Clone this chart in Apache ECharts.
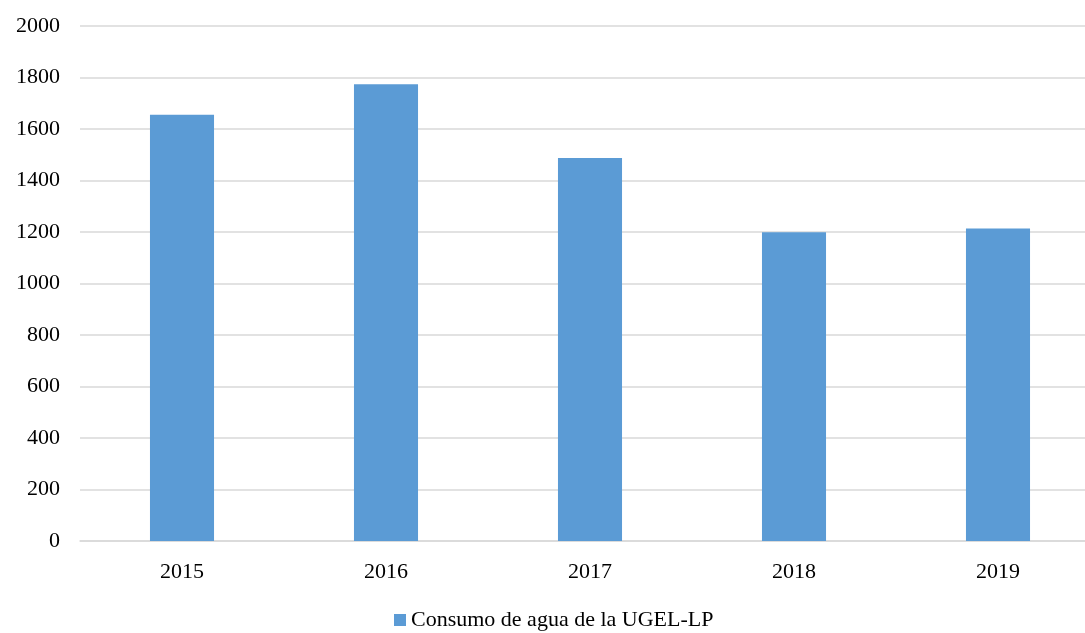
<!DOCTYPE html>
<html>
<head>
<meta charset="utf-8">
<script src="https://cdn.jsdelivr.net/npm/echarts@6/dist/echarts.min.js"></script>
<style>html,body{margin:0;padding:0;background:#fff}#c{width:1085px;height:633px}</style>
</head>
<body>
<div id="c"></div>
<script>
var categories = ['2015', '2016', '2017', '2018', '2019'];
var values = [1655, 1774, 1487, 1199, 1214];
var seriesName = 'Consumo de agua de la UGEL-LP';
var chart = echarts.init(document.getElementById('c'));
var font = '"Liberation Serif", "Times New Roman", serif';
chart.setOption({
  animation: false,
  textStyle: { fontFamily: font },
  grid: { left: 80, width: 1020, top: 26, bottom: 92, outerBoundsMode: 'none', containLabel: false },
  legend: {
    bottom: -3, left: 389,
    itemWidth: 12, itemHeight: 12, itemGap: 6,
    icon: 'rect',
    textStyle: { fontFamily: font, fontSize: 22, color: '#000', padding: [0, 0, 0, 0] },
    data: [seriesName]
  },
  xAxis: {
    type: 'category', data: categories,
    axisLine: { lineStyle: { color: '#d9d9d9', width: 1.5 } },
    axisTick: { show: false },
    axisLabel: { fontFamily: font, fontSize: 22, color: '#000', margin: 20 }
  },
  yAxis: {
    type: 'value', min: 0, max: 2000, interval: 200,
    axisLine: { show: false }, axisTick: { show: false },
    splitLine: { lineStyle: { color: '#d9d9d9', width: 1.5 } },
    axisLabel: { fontFamily: font, fontSize: 22, color: '#000', margin: 20,
      formatter: function (v) { return String(v); } }
  },
  series: [{
    name: seriesName, type: 'bar', data: values,
    barWidth: '31.4%',
    itemStyle: { color: '#5B9BD5' }
  }]
});
</script>
</body>
</html>
